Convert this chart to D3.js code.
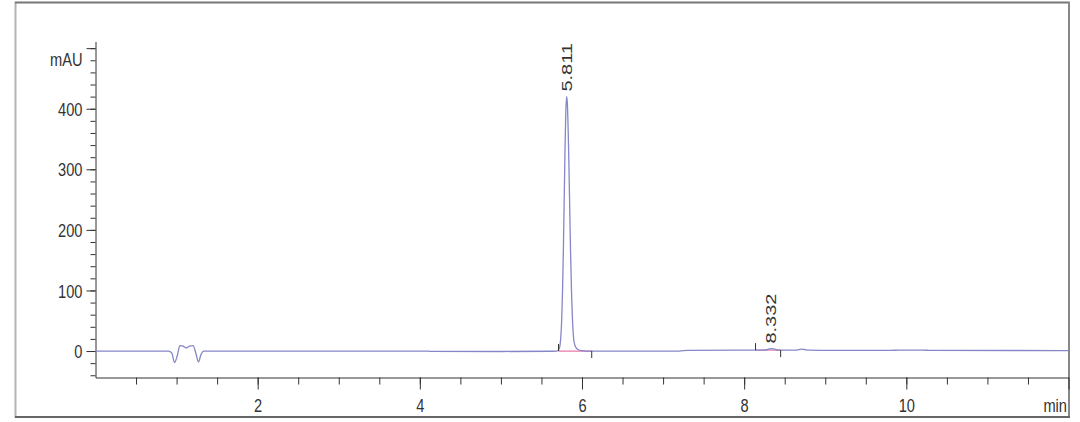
<!DOCTYPE html>
<html>
<head>
<meta charset="utf-8">
<script src="https://cdn.jsdelivr.net/npm/d3@7"></script>
<style>
  body { margin: 0; background: #fff; }
  text { font-family: "Liberation Sans", Arial, sans-serif; fill: #333; }
</style>
</head>
<body>
<div id="chart"></div>
<script>
// retention time (min) and signal (mAU)
let traceTime = [0.00, 0.90, 0.94, 0.975, 1.01, 1.04, 1.08, 1.12, 1.16, 1.205, 1.24, 1.27, 1.30, 1.335,
    2.0, 3.0, 4.05, 4.15, 5.0, 5.6, 5.69,
    5.71, 5.72, 5.73, 5.74, 5.75, 5.76, 5.77, 5.78, 5.79, 5.80, 5.811,
    5.82, 5.83, 5.84, 5.85, 5.86, 5.87, 5.88, 5.89, 5.90, 5.92, 5.95, 6.00, 6.05,
    7.2, 7.3, 8.1, 8.25, 8.30, 8.34, 8.38, 8.42, 8.65, 8.70, 8.74, 8.80,
    9.1, 9.8, 9.9, 10.2, 10.3, 12.0];
let traceMAU = [0, 0, -3, -19, -7, 9, 8, 5, 8, 9, -5, -18, -6, 0,
    0, 0, 0, -0.6, -0.8, -0.4, 0,
    1.5, 4.3, 11, 26, 53, 100, 165, 246, 328, 393, 420,
    407, 362, 298, 226, 157, 101, 60, 33, 17, 7, 2.5, 0.5, 0,
    0, 1.2, 1.5, 1.6, 3, 4, 3, 1.6, 1.6, 3, 2.5, 1.5,
    1, 1, 1.6, 1.6, 1, 0.8];

// integrated peaks
let peakRT = [5.811, 8.332];
let peakStart = [5.71, 8.14];
let peakEnd = [6.12, 8.45];
let peakBase = [0, 1.5];

// axis ticks
let yMajor = [0, 100, 200, 300, 400, 500];
let yMinor = d3.range(-40, 501, 20);
let xMajor = [2, 4, 6, 8, 10, 12];
let xMinor = d3.range(0.5, 12, 0.5);

let width = 1080;
let height = 422;

let svg = d3.select('#chart').append('svg')
            .attr('width', width)
            .attr('height', height);

svg.append('rect')
    .attr('width', width)
    .attr('height', height)
    .attr('fill', '#fff');

// frame
svg.append('line').attr('x1', 15.5).attr('x2', 15.5).attr('y1', 2).attr('y2', 418)
    .attr('stroke', '#b4b4b4').attr('stroke-width', 2);
svg.append('line').attr('x1', 15).attr('x2', 1070).attr('y1', 2.5).attr('y2', 2.5)
    .attr('stroke', '#777').attr('stroke-width', 2);
svg.append('line').attr('x1', 1069).attr('x2', 1069).attr('y1', 2).attr('y2', 418)
    .attr('stroke', '#888').attr('stroke-width', 2);
svg.append('line').attr('x1', 15).attr('x2', 1070).attr('y1', 417).attr('y2', 417)
    .attr('stroke', '#666').attr('stroke-width', 2);

let x = d3.scaleLinear().domain([0, 12]).range([95.5, 1068.5]);
let y = d3.scaleLinear().domain([-43.7, 511]).range([377.5, 41.5]);

// y axis
let yMin = svg.append('g')
    .attr('transform', 'translate(95.5,0)')
    .call(d3.axisLeft(y).tickValues(yMinor).tickSize(5).tickSizeOuter(0).tickFormat(''));
let yMaj = svg.append('g')
    .attr('transform', 'translate(95.5,0)')
    .call(d3.axisLeft(y).tickValues(yMajor).tickSize(9).tickSizeOuter(0)
        .tickFormat(d => d == 500 ? 'mAU' : d));
yMaj.select('.domain').remove();
yMaj.selectAll('.tick text')
    .attr('x', 0)
    .attr('dy', d => d == 500 ? '0.9em' : '0.35em')
    .attr('font-size', 19)
    .attr('transform', 'translate(-13,0) scale(0.77,1)');

// x axis
let xMin = svg.append('g')
    .attr('transform', 'translate(0,377.5)')
    .call(d3.axisBottom(x).tickValues(xMinor).tickSize(7).tickSizeOuter(0).tickFormat(''));
let xMaj = svg.append('g')
    .attr('transform', 'translate(0,377.5)')
    .call(d3.axisBottom(x).tickValues(xMajor).tickSize(12).tickSizeOuter(0)
        .tickFormat(d => d == 12 ? 'min' : d));
xMaj.select('.domain').remove();
xMaj.selectAll('.tick text')
    .attr('y', 0)
    .attr('dy', 0)
    .attr('font-size', 19)
    .attr('text-anchor', d => d == 12 ? 'end' : 'middle')
    .attr('transform', d => d == 12 ? 'translate(-2,34) scale(0.77,1)' : 'translate(0,34) scale(0.77,1)');

[yMin, yMaj, xMin, xMaj].forEach(g => {
    g.selectAll('line').attr('stroke', '#333');
    g.selectAll('.domain').attr('stroke', '#333');
});

// baselines of the integrated peaks
peakRT.forEach((rt, i) => {
    svg.append('line')
        .attr('x1', x(peakStart[i])).attr('x2', x(peakEnd[i]))
        .attr('y1', y(peakBase[i])).attr('y2', y(peakBase[i]))
        .attr('stroke', '#e878aa').attr('stroke-width', 1.2);
});

// signal trace
let trace = traceTime.map((t, i) => [t, traceMAU[i]]);
let line = d3.line()
    .x(d => x(d[0]))
    .y(d => y(d[1]))
    .curve(d3.curveMonotoneX);

svg.append('path')
    .datum(trace)
    .attr('d', line)
    .attr('fill', 'none')
    .attr('stroke', '#8686c8')
    .attr('stroke-width', 1.3);

// peak start / end markers and retention time labels
peakRT.forEach((rt, i) => {
    let b = y(peakBase[i]);
    svg.append('line')
        .attr('x1', x(peakStart[i])).attr('x2', x(peakStart[i]))
        .attr('y1', b - 7).attr('y2', b)
        .attr('stroke', '#333').attr('stroke-width', 1);
    svg.append('line')
        .attr('x1', x(peakEnd[i])).attr('x2', x(peakEnd[i]))
        .attr('y1', b).attr('y2', b + 7)
        .attr('stroke', '#333').attr('stroke-width', 1);

    let top = d3.max(trace.filter(d => d[0] >= peakStart[i] && d[0] <= peakEnd[i]), d => d[1]);
    svg.append('text')
        .attr('text-anchor', 'start')
        .attr('dy', '0.35em')
        .attr('font-size', 20)
        .attr('transform', 'translate(' + x(rt) + ',' + (y(top) - 5) + ') scale(0.77,1) rotate(-90)')
        .text(rt.toFixed(3));
});
</script>
</body>
</html>
